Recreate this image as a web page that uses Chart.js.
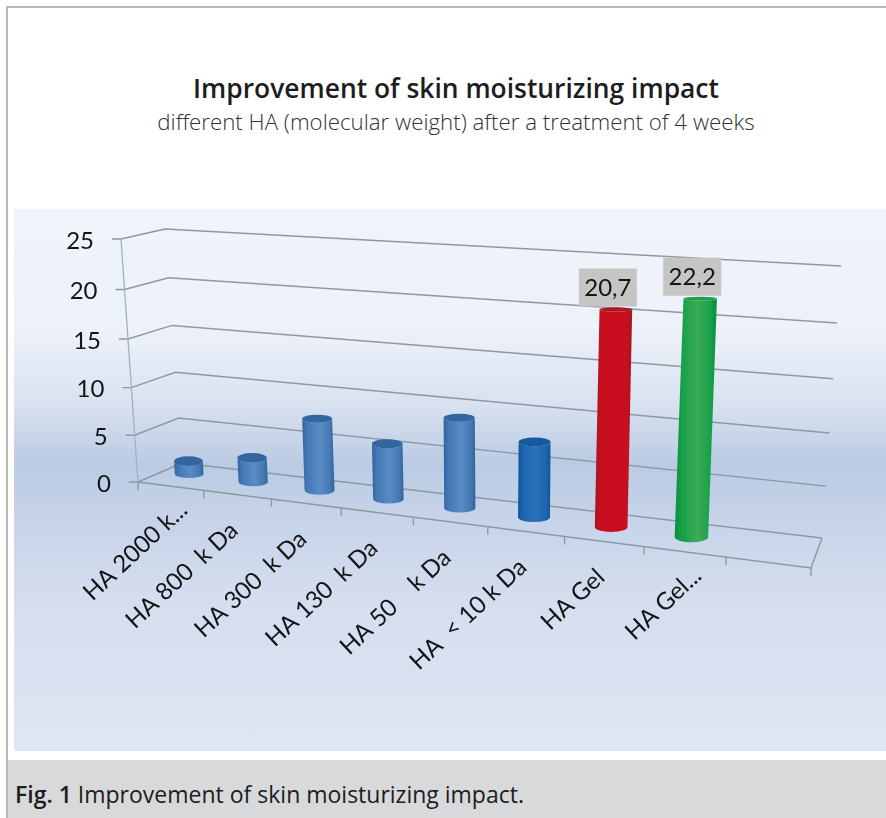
<!DOCTYPE html>
<html>
<head>
<meta charset="utf-8">
<style>
  html, body { margin: 0; padding: 0; background: #fff; }
  body { width: 886px; height: 818px; position: relative; overflow: hidden; font-family: "Open Sans", sans-serif; }
  .frame { position: absolute; left: 6px; top: 6px; width: 890px; height: 830px; border: 2px solid #b6b8b8; box-sizing: border-box; }
  .title { position: absolute; left: 0; width: 912px; top: 70px; text-align: center; font-size: 26.4px; line-height: 36px; font-weight: 600; color: #1d1d20; }
  .subtitle { position: absolute; left: 0; width: 912px; top: 105px; text-align: center; font-size: 22.3px; line-height: 34px; font-weight: 300; color: #333336; }
  .panel { position: absolute; left: 14px; top: 209px; width: 872px; height: 542px;
    background: linear-gradient(to bottom, #eff3fa 0%, #edf1f9 22%, #dbe3f1 35%, #bbcbe4 47%, #c5d2e8 56%, #d5deef 72%, #dfe6f3 100%); }
  .caption { position: absolute; left: 8px; top: 760px; width: 878px; height: 58px; background: #d8d9db; color: #1d1d20; font-size: 23px; line-height: 68px; padding-left: 7px; box-sizing: border-box; }
  .caption b { font-weight: 600; }
  #wrap { position: absolute; left: 0; top: 0; width: 886px; height: 818px; }
</style>
</head>
<body>
<div class="frame"></div>
<div class="title">Improvement of skin moisturizing impact</div>
<div class="subtitle">different HA (molecular weight) after a treatment of 4 weeks</div>
<div class="panel"></div>
<div class="caption"><b>Fig. 1</b> Improvement of skin moisturizing impact.</div>
<div id="wrap"><canvas id="chart" width="886" height="818"></canvas></div>

<script src="https://cdn.jsdelivr.net/npm/chart.js@4/dist/chart.umd.js"></script>
<script>
// Data. The ninth slot is empty in the original.
const categories = ['HA 2000 k...', 'HA 800  k Da', 'HA 300  k Da', 'HA 130  k Da', 'HA 50    k Da', 'HA  < 10 k Da', 'HA Gel', 'HA Gel...', ''];
const moisturizing = [1.4, 2.6, 7.5, 5.7, 9.1, 7.5, 20.7, 22.2, null];
const valueLabels = [null, null, null, null, null, null, '20,7', '22,2', null];
const yMax = 25;
const yStep = 5;

const STEEL = { edge: '#30639b', body: '#4479b6', light: '#5a8bc4', cap: '#33659f' };
const ROYAL = { edge: '#0f559c', body: '#1d65ad', light: '#2b73ba', cap: '#15599f' };
const RED = { edge: '#a5151f', body: '#c5101f', light: '#cb0b1d', cap: '#ae1620' };
const GREEN = { edge: '#0b8b3e', body: '#16a049', light: '#3bab56', cap: '#229e4a' };
const barStyles = [STEEL, STEEL, STEEL, STEEL, STEEL, ROYAL, RED, GREEN, STEEL];

// Perspective frame of the 3D plot: bottom-left, bottom-right, top-right, top-left.
const FRONT = quad([138, 482], [811, 568], [830, 290], [121, 239]);
const MIDDLE = quad([158, 470], [818, 553], [835, 275], [143, 234]);
const BACK = quad([182, 463], [822, 538], [841, 266], [165, 229]);

const LINE = '#8c999f';
const AXIS = '#9fb2bc';
const INK = '#141416';
const FONT = 'Lato, "Open Sans", sans-serif';

// Unit square to quadrilateral projection.
function quad(p0, p1, p2, p3) {
  const dx1 = p1[0] - p2[0], dx2 = p3[0] - p2[0], sx = p0[0] - p1[0] + p2[0] - p3[0];
  const dy1 = p1[1] - p2[1], dy2 = p3[1] - p2[1], sy = p0[1] - p1[1] + p2[1] - p3[1];
  const det = dx1 * dy2 - dx2 * dy1;
  const g = (sx * dy2 - dx2 * sy) / det;
  const h = (dx1 * sy - sx * dy1) / det;
  const a = p1[0] - p0[0] + g * p1[0], b = p3[0] - p0[0] + h * p3[0];
  const d = p1[1] - p0[1] + g * p1[1], e = p3[1] - p0[1] + h * p3[1];
  return (u, v) => {
    const w = g * u + h * v + 1;
    return { x: (a * u + b * v + p0[0]) / w, y: (d * u + e * v + p0[1]) / w };
  };
}

function strokeLine(ctx, pts, color, width) {
  ctx.beginPath();
  pts.forEach((p, i) => (i ? ctx.lineTo(p.x, p.y) : ctx.moveTo(p.x, p.y)));
  ctx.strokeStyle = color;
  ctx.lineWidth = width;
  ctx.stroke();
}

const capHeight = (y) => 2 + Math.max(0, y - 300) * 0.0175;

function drawFrame(chart, ctx, toV, toU) {
  const yScale = chart.scales.y;
  const xScale = chart.scales.x;

  // back wall and side wall grid, with a stub and label on the front axis
  yScale.ticks.forEach((tick) => {
    const v = toV(yScale.getPixelForValue(tick.value));
    const front = FRONT(0, v);
    strokeLine(ctx, [{ x: front.x - 9, y: front.y }, front, BACK(0, v), BACK(1, v)], LINE, 1.4);
    ctx.fillStyle = INK;
    ctx.font = '24px ' + FONT;
    ctx.textAlign = 'right';
    ctx.textBaseline = 'middle';
    ctx.fillText(String(tick.value), front.x - 27, front.y + 2);
  });

  strokeLine(ctx, [FRONT(0, 0), FRONT(0, 1)], AXIS, 1.3);
  strokeLine(ctx, [FRONT(0, 0), FRONT(1, 0), BACK(1, 0)], LINE, 1.4);

  // tick marks under the front floor edge, one per slot boundary
  const slot = xScale.width / categories.length;
  for (let i = 0; i <= categories.length; i++) {
    const p = FRONT(toU(xScale.left + i * slot), 0);
    strokeLine(ctx, [p, { x: p.x, y: p.y + 8 }], LINE, 1.3);
  }

  // rotated category labels along the front edge
  categories.forEach((label, i) => {
    if (!label) return;
    const p = FRONT(toU(xScale.getPixelForValue(i)), 0);
    const cut = label.endsWith('...');
    ctx.save();
    ctx.translate(p.x + (cut ? 13 : -3), p.y + (cut ? 20 : 32));
    ctx.rotate(-43 * Math.PI / 180);
    ctx.fillStyle = INK;
    ctx.font = '24px ' + FONT;
    ctx.textAlign = 'right';
    ctx.textBaseline = 'middle';
    ctx.fillText(label, 0, 0);
    ctx.restore();
  });
}

function drawCylinder(ctx, el, style, slotU, toU, toV, label) {
  const u = toU(el.x);
  const top = MIDDLE(u, toV(el.y));
  const base = MIDDLE(u, toV(el.base));
  const spacing = MIDDLE(u + slotU / 2, 0).x - MIDDLE(u - slotU / 2, 0).x;
  const r = 0.125 * spacing + 6.5;
  const ryTop = capHeight(top.y);
  const ryBase = capHeight(base.y) - 1;

  const left = Math.min(top.x, base.x) - r;
  const right = Math.max(top.x, base.x) + r;
  const grad = ctx.createLinearGradient(left, 0, right, 0);
  grad.addColorStop(0, style.edge);
  grad.addColorStop(0.16, style.body);
  grad.addColorStop(0.55, style.light);
  grad.addColorStop(0.86, style.body);
  grad.addColorStop(1, style.edge);

  ctx.beginPath();
  ctx.moveTo(top.x - r, top.y);
  ctx.lineTo(base.x - r, base.y);
  ctx.ellipse(base.x, base.y, r, ryBase, 0, Math.PI, 0, true);
  ctx.lineTo(top.x + r, top.y);
  ctx.ellipse(top.x, top.y, r, ryTop, 0, 0, Math.PI, false);
  ctx.closePath();
  ctx.fillStyle = grad;
  ctx.fill();

  ctx.beginPath();
  ctx.ellipse(top.x, top.y, r, ryTop, 0, 0, Math.PI * 2);
  ctx.fillStyle = style.cap;
  ctx.fill();

  if (label) {
    const w = 58, h = 38;
    const bx = top.x - 8 - w / 2;
    const by = top.y - 3 - h;
    ctx.fillStyle = '#c5c5c5';
    ctx.fillRect(bx, by, w, h);
    ctx.fillStyle = INK;
    ctx.font = '24px ' + FONT;
    ctx.textAlign = 'center';
    ctx.textBaseline = 'middle';
    ctx.fillText(label, bx + w / 2, by + h / 2 + 1);
  }
}

// Scales stay hidden: every mark is taken from them, then projected onto the 3D frame.
const perspective3d = {
  id: 'perspective3d',
  beforeDatasetsDraw(chart) {
    const { ctx, chartArea: area } = chart;
    const toU = (x) => (x - area.left) / (area.right - area.left);
    const toV = (y) => (area.bottom - y) / (area.bottom - area.top);
    const meta = chart.getDatasetMeta(0);
    const slotU = 1 / categories.length;

    ctx.save();
    drawFrame(chart, ctx, toV, toU);
    meta.data.forEach((el, i) => {
      if (moisturizing[i] == null) return;
      drawCylinder(ctx, el, barStyles[i], slotU, toU, toV, valueLabels[i]);
    });
    ctx.restore();
    return false;
  },
};

new Chart(document.getElementById('chart'), {
  type: 'bar',
  data: {
    labels: categories,
    datasets: [{ label: 'Improvement of skin moisturizing impact', data: moisturizing }],
  },
  options: {
    responsive: false,
    animation: false,
    events: [],
    plugins: { legend: { display: false }, tooltip: { enabled: false } },
    scales: {
      x: { display: false },
      y: { display: false, min: 0, max: yMax, ticks: { stepSize: yStep } },
    },
  },
  plugins: [perspective3d],
});
</script>
</body>
</html>
